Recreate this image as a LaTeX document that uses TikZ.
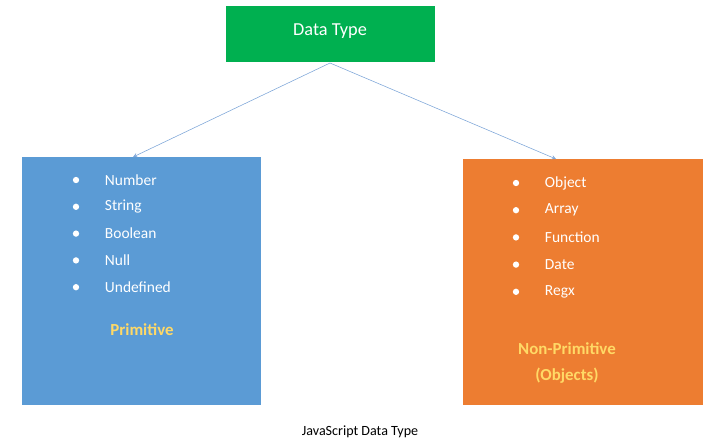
\documentclass[tikz,border=0pt]{standalone}
\usepackage{fontspec}
\setmainfont{Carlito}
\definecolor{dGreen}{HTML}{00B050}
\definecolor{pBlue}{HTML}{5B9BD5}
\definecolor{pOrange}{HTML}{ED7D31}
\definecolor{pYellow}{HTML}{FFD966}
\definecolor{lArrow}{HTML}{7EA6D8}

\begin{document}
\begin{tikzpicture}[x=0.025cm,y=-0.025cm,
    typebox/.style={draw=none,inner sep=0pt},
    item/.style={anchor=west,text=white,font=\fontsize{11}{13}\selectfont},
    dot/.style={circle,fill=white,inner sep=0pt,minimum size=4.5pt},
    title/.style={font=\bfseries\fontsize{12}{14}\selectfont}]
    \useasboundingbox (0,0) rectangle (720,446);

    % boxes
    \fill[dGreen] (226,6) rectangle (435,62);
    \fill[pBlue] (22,157) rectangle (261,405);
    \fill[pOrange] (463,159) rectangle (703,405);
    \node[typebox,text=white,font=\fontsize{13}{15}\selectfont] (top) at (330,31) {Data Type};
    \coordinate (topS) at (330,63);
    \coordinate (leftN) at (133,157);
    \coordinate (rightN) at (556,159);

    % connectors
    \draw[lArrow,->,>=stealth] (topS) -- (leftN);
    \draw[lArrow,->,>=stealth] (topS) -- (rightN);

    % primitive list
    \foreach \t [count=\i] in {Number,String,Boolean,Null,Undefined}{
        \node[dot] (pd\i) at (76,{180+26.8*(\i-1)}) {};
        \node[item] (pt\i) at (100,{180+26.8*(\i-1)}) {\t};
    }
    \node[title,text=pYellow] (prim) at (142,330) {Primitive};

    % non-primitive list
    \foreach \t [count=\i] in {Object,Array,Function,Date,Regx}{
        \node[dot] (nd\i) at (516,{183+27.2*(\i-1)}) {};
        \node[item] (nt\i) at (540,{183+27.2*(\i-1)}) {\t};
    }
    \node[title,text=pYellow,align=center] (nonprim) at (567,363) {Non-Primitive\\[4pt](Objects)};

    \node[font=\fontsize{10}{12}\selectfont] (cap) at (360,432) {JavaScript Data Type};
\end{tikzpicture}
\end{document}
